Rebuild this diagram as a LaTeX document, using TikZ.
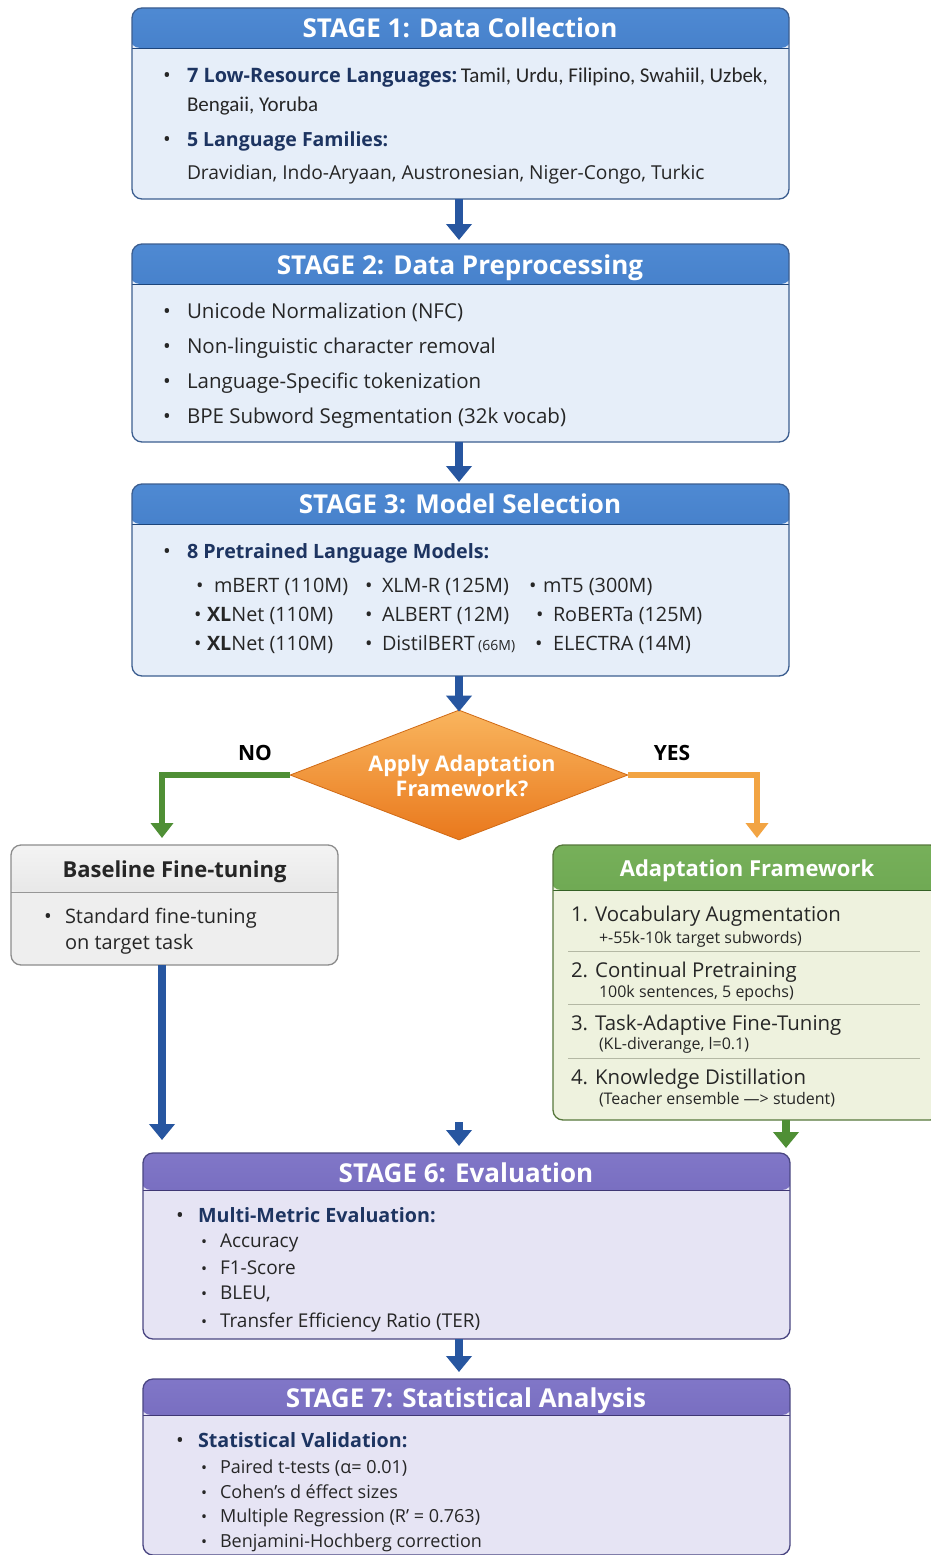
\documentclass[tikz,border=0pt]{standalone}
\usepackage{fontspec}
\setmainfont{Open Sans}
\newfontfamily\narrowf{Carlito}
\usetikzlibrary{arrows.meta,shapes.geometric}
\definecolor{blueTop}{HTML}{4F8AD3}
\definecolor{blueBot}{HTML}{2A62B0}
\definecolor{blueBody}{HTML}{E6EEF9}
\definecolor{blueBorder}{HTML}{3C5E90}
\definecolor{arrowBlue}{HTML}{2756A0}
\definecolor{grayTop}{HTML}{F4F4F4}
\definecolor{grayBot}{HTML}{D6D6D6}
\definecolor{grayBody}{HTML}{EEEEEE}
\definecolor{grayBorder}{HTML}{8C8C8C}
\definecolor{greenTop}{HTML}{77B05A}
\definecolor{greenBot}{HTML}{4A8A35}
\definecolor{greenBody}{HTML}{EEF2DE}
\definecolor{greenBorder}{HTML}{57783C}
\definecolor{greenArrow}{HTML}{4F8F35}
\definecolor{orTop}{HTML}{F9B55E}
\definecolor{orBot}{HTML}{E9781C}
\definecolor{orBorder}{HTML}{D06A15}
\definecolor{yesArrow}{HTML}{F2A443}
\definecolor{purTop}{HTML}{8177C8}
\definecolor{purBot}{HTML}{5A4FA6}
\definecolor{purBody}{HTML}{E6E4F4}
\definecolor{purBorder}{HTML}{4A4682}
\definecolor{navy}{HTML}{1D3461}
\definecolor{txt}{HTML}{262626}
\definecolor{sepc}{HTML}{B4B8A4}
\newcount\nc
\newcommand\tx[4][]{\global\advance\nc by 1\relax\node[t,#1] (n\the\nc) at (#2,#3) {#4};}
\tikzset{
  t/.style={anchor=base west, inner sep=0pt, outer sep=0pt, text=txt},
  ttl/.style={anchor=base, inner sep=0pt, text=white, font=\fontsize{26}{28}\selectfont\bfseries},
  bodyf/.style={font=\fontsize{20.5}{23}\selectfont},
  modf/.style={font=\fontsize{19.8}{22}\selectfont},
  adf/.style={font=\fontsize{20.4}{23}\selectfont},
  subf/.style={font=\fontsize{16}{18}\selectfont},
  boldn/.style={font=\fontsize{19.7}{22}\selectfont\bfseries, text=navy},
  sbul/.style={font=\fontsize{16}{18}\selectfont},
  s7f/.style={font=\fontsize{18}{20}\selectfont},
  hdr/.style n args={3}{path picture={
      \shade[top color=#1,bottom color=#2] ([yshift=2pt,xshift=-2pt]path picture bounding box.north west) rectangle ([yshift=-#3,xshift=2pt]path picture bounding box.north east);
      \draw[line width=0.7pt,#2!70!black] ([yshift=-#3]path picture bounding box.north west) -- ([yshift=-#3]path picture bounding box.north east);}},
  stagebox/.style={rectangle, rounded corners=10pt, line width=1.3pt, inner sep=0pt, outer sep=0pt},
  flowblue/.style={line width=7.5pt, arrowBlue, -{Triangle[width=25pt,length=16pt]}},
  flowgreen/.style={line width=5.5pt, greenArrow, -{Triangle[width=22pt,length=15pt]}},
  floworange/.style={line width=5.5pt, yesArrow, -{Triangle[width=22pt,length=15pt]}},
}
\begin{document}
\begin{tikzpicture}[x=1pt,y=-1pt]
\useasboundingbox (0,0) rectangle (930,1555);
\fill[white] (0,0) rectangle (930,1555);
\coordinate (cx) at (459,0);
% ---------- boxes
\node[stagebox, minimum width=657pt, minimum height=191pt, fill=blueBody, draw=blueBorder, hdr={blueTop}{blueBot}{40pt}] (s1) at (460.5,103.5) {};
\node[stagebox, minimum width=657pt, minimum height=198pt, fill=blueBody, draw=blueBorder, hdr={blueTop}{blueBot}{40pt}] (s2) at (460.5,343) {};
\node[stagebox, minimum width=657pt, minimum height=192pt, fill=blueBody, draw=blueBorder, hdr={blueTop}{blueBot}{40pt}] (s3) at (460.5,580) {};
\node[diamond, minimum width=338pt, minimum height=130pt, inner sep=0pt, top color=orTop, bottom color=orBot, draw=orBorder, line width=0.8pt] (d) at (459,775) {};
\node[stagebox, minimum width=327pt, minimum height=120pt, fill=grayBody, draw=grayBorder, hdr={grayTop}{grayBot}{47pt}] (bl) at (174.5,905) {};
\node[stagebox, minimum width=387pt, minimum height=275pt, fill=greenBody, draw=greenBorder, hdr={greenTop}{greenBot}{45pt}] (ad) at (746.5,982.5) {};
\node[stagebox, minimum width=647pt, minimum height=186pt, fill=purBody, draw=purBorder, hdr={purTop}{purBot}{37pt}] (s6) at (466.5,1246) {};
\node[stagebox, minimum width=647pt, minimum height=176pt, fill=purBody, draw=purBorder, hdr={purTop}{purBot}{36pt}] (s7) at (466.5,1467) {};
% ---------- connectors
\draw[flowblue, shorten >=4pt] (s1.south -| cx) -- (s2.north -| cx);
\draw[flowblue, shorten >=2pt] (s2.south -| cx) -- (s3.north -| cx);
\draw[flowblue, shorten >=-2pt] (s3.south -| cx) -- (d.north);
\draw[flowgreen, shorten >=7pt] (d.west) -| ([xshift=-12.5pt]bl.north);
\draw[floworange, shorten >=7pt] (d.east) -| ([xshift=10.5pt]ad.north);
\draw[flowblue, shorten >=13pt] ([xshift=-12.5pt]bl.south) -- ([xshift=-304.5pt]s6.north);
\coordinate (mtop) at (459,1122);
\draw[flowblue, shorten >=7pt] (mtop) -- (s6.north -| cx);
\draw[flowgreen, line width=7.5pt, -{Triangle[width=25pt,length=16pt]}, shorten >=5pt] ([xshift=39.5pt]ad.south) -- ([xshift=319.5pt]s6.north);
\draw[flowblue, shorten >=7pt] (s6.south -| cx) -- (s7.north -| cx);
% ---------- stage 1
\node[ttl] (s1t) at (460,38) {STAGE 1: Data Collection};
\tx[bodyf]{163}{82}{•}
\tx[bodyf]{187}{82}{{\fontsize{19.9}{22}\selectfont\bfseries\color{navy}7 Low-Resource Languages:}\,{\narrowf\fontsize{21}{23}\selectfont Tamil, Urdu, Filipino, Swahiil, Uzbek,}}
\tx[font=\narrowf\fontsize{21}{23}\selectfont]{187}{111}{Bengaii, Yoruba}
\tx[bodyf]{163}{146}{•}
\tx[font=\fontsize{19.5}{22}\selectfont\bfseries, text=navy]{187}{146}{5 Language Families:}
\tx[font=\fontsize{19.2}{22}\selectfont]{187}{179}{Dravidian, Indo-Aryaan, Austronesian, Niger-Congo, Turkic}
% ---------- stage 2
\node[ttl] (s2t) at (460,274) {STAGE 2: Data Preprocessing};
\tx[bodyf]{163}{318}{•}\tx[bodyf]{187}{318}{Unicode Normalization (NFC)}
\tx[bodyf]{163}{353}{•}\tx[bodyf]{187}{353}{Non-linguistic character removal}
\tx[bodyf]{163}{388}{•}\tx[bodyf]{187}{388}{Language-Specific tokenization}
\tx[bodyf]{163}{423}{•}\tx[bodyf]{187}{423}{BPE Subword Segmentation (32k vocab)}
% ---------- stage 3
\node[ttl] (s3t) at (460,513) {STAGE 3: Model Selection};
\tx[bodyf]{163}{558}{•}
\tx[boldn]{187}{558}{8 Pretrained Language Models:}
\tx[modf]{196}{592}{•}\tx[modf]{214}{592}{mBERT (110M)}
\tx[modf]{365}{592}{•}\tx[modf]{382}{592}{XLM-R (125M)}
\tx[modf]{529}{592}{•}\tx[modf]{543}{592}{mT5 (300M)}
\tx[modf]{194}{621}{•}\tx[modf]{207}{621}{\textbf{XL}Net (110M)}
\tx[modf]{365}{621}{•}\tx[modf]{382}{621}{ALBERT (12M)}
\tx[modf]{536}{621}{•}\tx[modf]{553}{621}{RoBERTa (125M)}
\tx[modf]{194}{650}{•}\tx[modf]{207}{650}{\textbf{XL}Net (110M)}
\tx[modf]{365}{650}{•}\tx[modf]{382}{650}{DistilBERT\,{\fontsize{14}{16}\selectfont(66M)}}
\tx[modf]{535}{650}{•}\tx[modf]{553}{650}{ELECTRA (14M)}
% ---------- decision
\node[anchor=base, inner sep=0pt, text=white, font=\fontsize{21.5}{24}\selectfont\bfseries] (dq1) at (462,771) {Apply Adaptation};
\node[anchor=base, inner sep=0pt, text=white, font=\fontsize{21.5}{24}\selectfont\bfseries] (dq2) at (462,796) {Framework?};
\node[anchor=base, inner sep=0pt, font=\fontsize{21}{23}\selectfont\bfseries] (no) at (255,760) {NO};
\node[anchor=base, inner sep=0pt, font=\fontsize{21}{23}\selectfont\bfseries] (yes) at (672,760) {YES};
% ---------- baseline
\node[anchor=base, inner sep=0pt, text=txt, font=\fontsize{22}{24}\selectfont\bfseries] (blt) at (174.5,877) {Baseline Fine-tuning};
\tx[bodyf]{44}{923}{•}\tx[font=\fontsize{20}{22}\selectfont]{65}{923}{Standard fine-tuning}
\tx[font=\fontsize{20}{22}\selectfont]{65}{949}{on target task}
% ---------- adaptation
\node[anchor=base, inner sep=0pt, text=white, font=\fontsize{22}{24}\selectfont\bfseries] (adt) at (747,876) {Adaptation Framework};
\tx[adf]{571}{921}{1. Vocabulary Augmentation}
\tx[subf]{599}{943}{+-55k-10k target subwords)}
\draw[sepc, line width=1pt] (568,951) -- (920,951);
\tx[adf]{571}{977}{2. Continual Pretraining}
\tx[subf]{599}{997}{100k sentences, 5 epochs)}
\draw[sepc, line width=1pt] (568,1004) -- (920,1004);
\tx[adf]{571}{1030}{3. Task-Adaptive Fine-Tuning}
\tx[subf]{599}{1049}{(KL-diverange, l=0.1)}
\draw[sepc, line width=1pt] (568,1058) -- (920,1058);
\tx[adf]{571}{1084}{4. Knowledge Distillation}
\tx[subf]{599}{1104}{(Teacher ensemble —> student)}
% ---------- stage 6
\node[ttl] (s6t) at (466,1182) {STAGE 6: Evaluation};
\tx[bodyf]{176}{1222}{•}
\tx[boldn]{198}{1222}{Multi-Metric Evaluation:}
\tx[sbul]{201}{1247}{•}\tx[font=\fontsize{19}{21}\selectfont]{220}{1247}{Accuracy}
\tx[sbul]{201}{1274}{•}\tx[font=\fontsize{19}{21}\selectfont]{220}{1274}{F1-Score}
\tx[sbul]{201}{1299}{•}\tx[font=\fontsize{19}{21}\selectfont]{220}{1299}{BLEU,}
\tx[sbul]{201}{1327}{•}\tx[font=\fontsize{19}{21}\selectfont]{220}{1327}{Transfer Efficiency Ratio (TER)}
% ---------- stage 7
\node[ttl] (s7t) at (466,1407) {STAGE 7: Statistical Analysis};
\tx[bodyf]{176}{1447}{•}
\tx[boldn]{198}{1447}{Statistical Validation:}
\tx[sbul]{201}{1473}{•}\tx[s7f]{220}{1473}{Paired t-tests (α= 0.01)}
\tx[sbul]{201}{1498}{•}\tx[s7f]{220}{1498}{Cohen’s d éffect sizes}
\tx[sbul]{201}{1522}{•}\tx[s7f]{220}{1522}{Multiple Regression (R’ = 0.763)}
\tx[sbul]{201}{1547}{•}\tx[s7f]{220}{1547}{Benjamini-Hochberg correction}
\end{tikzpicture}
\end{document}
